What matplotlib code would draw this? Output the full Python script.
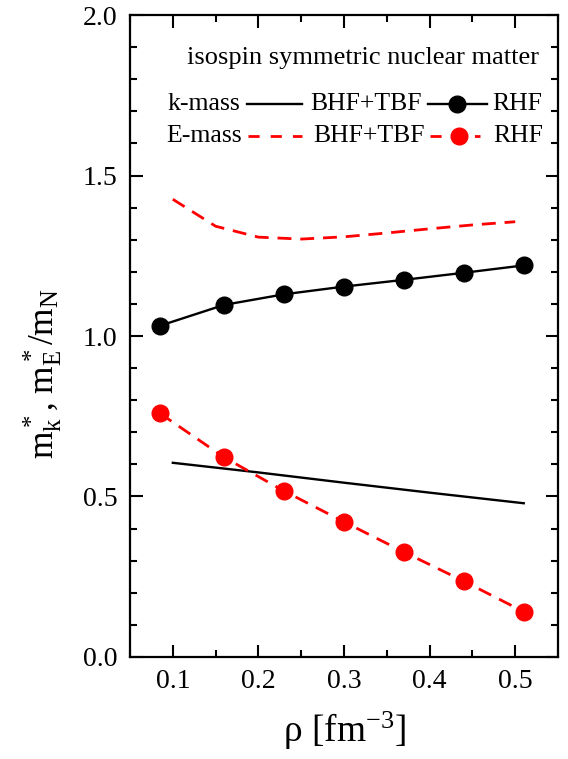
import matplotlib
matplotlib.use("Agg")
import matplotlib.pyplot as plt
from matplotlib.ticker import MultipleLocator

plt.rcParams['font.family'] = ['Liberation Serif', 'DejaVu Serif']
plt.rcParams['mathtext.fontset'] = 'custom'
plt.rcParams['mathtext.rm'] = 'Liberation Serif'
plt.rcParams['mathtext.it'] = 'Liberation Serif:italic'
plt.rcParams['mathtext.default'] = 'regular'

# RHF effective masses (symbols + lines)
rho_rhf = [0.085, 0.16, 0.23, 0.30, 0.37, 0.44, 0.51]
mk_rhf = [1.032, 1.097, 1.130, 1.154, 1.175, 1.197, 1.220]
me_rhf = [0.759, 0.622, 0.517, 0.421, 0.327, 0.236, 0.141]

# BHF+TBF effective masses
rho_k_bhf = [0.10, 0.20, 0.30, 0.40, 0.51]
mk_bhf = [0.605, 0.575, 0.543, 0.512, 0.479]
rho_e_bhf = [0.10, 0.15, 0.20, 0.25, 0.30, 0.35, 0.40, 0.45, 0.50]
me_bhf = [1.426, 1.342, 1.308, 1.302, 1.309, 1.321, 1.334, 1.346, 1.356]

RED = '#ff0000'
DASH = (5, 3.2)
LW_K = 1.7
LW_E = 2.0

fig = plt.figure(figsize=(5.68, 7.59), dpi=100)
ax = fig.add_axes([0.2289, 0.1344, 0.7535, 0.8458])

ax.plot(rho_k_bhf, mk_bhf, color='black', lw=LW_K)
ax.plot(rho_e_bhf, me_bhf, color=RED, lw=LW_E, dashes=DASH)
ax.plot(rho_rhf, mk_rhf, color='black', lw=LW_K, marker='o', ms=12)
ax.plot(rho_rhf, me_rhf, color=RED, lw=LW_E, dashes=DASH, marker='o', ms=12)

ax.set_xlim(0.05, 0.55)
ax.set_ylim(0.0, 2.0)
ax.xaxis.set_major_locator(MultipleLocator(0.1))
ax.xaxis.set_minor_locator(MultipleLocator(0.05))
ax.yaxis.set_major_locator(MultipleLocator(0.5))
ax.yaxis.set_minor_locator(MultipleLocator(0.1))
ax.tick_params(which='both', direction='in', top=True, right=True, width=1.5)
ax.tick_params(which='major', length=9, labelsize=20)
ax.tick_params(axis='x', which='major', pad=9)
ax.tick_params(axis='y', which='major', pad=9)
ax.tick_params(which='minor', length=5)
for s in ax.spines.values():
    s.set_linewidth(1.6)

ax.set_xlabel(r'ρ [fm$^{-3}$]', fontsize=27)
ax.xaxis.set_label_coords(0.5, -0.083)
ax.set_ylabel(r'$m^*_k$, $m^*_E$/$m_N$', fontsize=25.5)
ax.yaxis.set_label_coords(-0.152, 0.442)

# Legend block
tr = ax.transAxes
fs = 18.5
ax.text(0.955, 0.933, 'isospin symmetric nuclear matter', transform=tr,
        ha='right', va='center', fontsize=fs + 0.5)

def yax(py):
    return (657 - py) / 642.0

def xax(px):
    return (px - 130) / 428.0

row_k = yax(104)
row_e = yax(136)
ax.text(xax(240), row_k, 'k-mass', transform=tr, ha='right', va='center', fontsize=fs)
ax.text(xax(242), row_e, 'E-mass', transform=tr, ha='right', va='center', fontsize=fs)
ax.plot([xax(247), xax(302)], [row_k, row_k], transform=tr, color='black', lw=LW_K)
ax.plot([xax(248), xax(302)], [row_e, row_e], transform=tr, color=RED, lw=LW_E, dashes=(4, 4))
ax.text(xax(366), row_k, 'BHF+TBF', transform=tr, ha='center', va='center', fontsize=fs)
ax.text(xax(369), row_e, 'BHF+TBF', transform=tr, ha='center', va='center', fontsize=fs)
ax.plot([xax(428), xax(487)], [row_k, row_k], transform=tr, color='black', lw=LW_K)
ax.plot([xax(457)], [row_k], transform=tr, color='black', marker='o', ms=12)
ax.plot([xax(430), xax(480)], [row_e, row_e], transform=tr, color=RED, lw=LW_E, dashes=(4, 4))
ax.plot([xax(459)], [row_e], transform=tr, color=RED, marker='o', ms=12)
ax.text(xax(542), row_k, 'RHF', transform=tr, ha='right', va='center', fontsize=fs)
ax.text(xax(543), row_e, 'RHF', transform=tr, ha='right', va='center', fontsize=fs)

fig.savefig('out.png', dpi=100)
